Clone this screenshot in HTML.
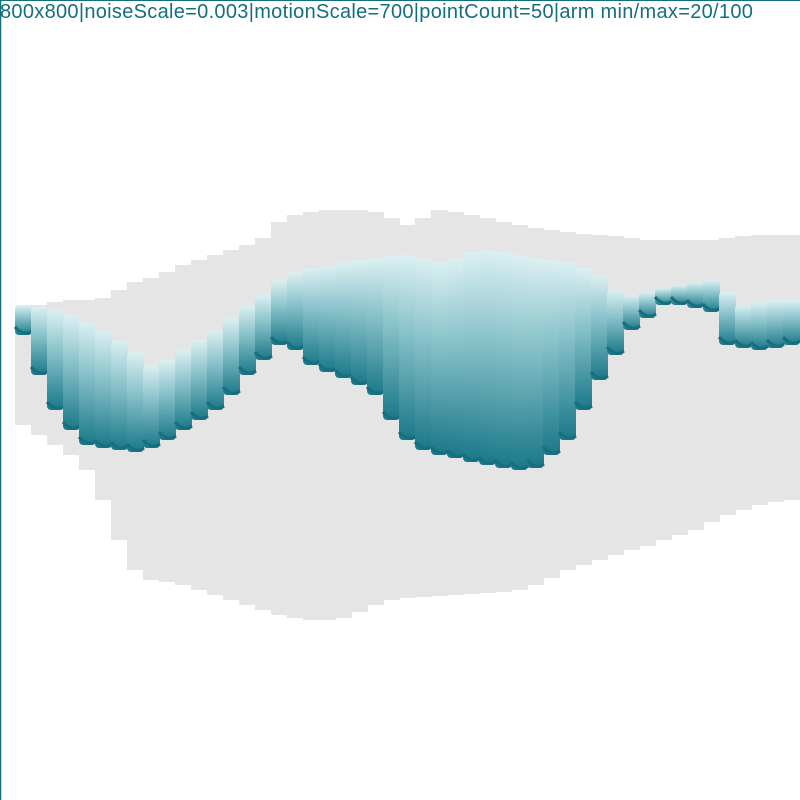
<!DOCTYPE html>
<html><head><meta charset="utf-8"><style>
body{margin:0;background:#fff}
#wrap{position:relative;width:800px;height:800px;overflow:hidden;background:#fff}
#title{position:absolute;left:0;top:1px;font:20px "Liberation Sans",sans-serif;color:#12707e;white-space:nowrap;letter-spacing:0.3px}
</style></head><body>
<div id="wrap">
<svg id="svg" width="800" height="800">
<defs>
<linearGradient id="tg" x1="0" y1="0" x2="0" y2="1">
<stop offset="0" stop-color="#dcf0f2"/>
<stop offset="0.4" stop-color="#8cc4cc"/>
<stop offset="1" stop-color="#1a7888"/>
</linearGradient>
</defs>
<g id="gray"></g><g id="teal"></g>
<line x1="0.5" y1="0" x2="0.5" y2="800" stroke="#12707e" stroke-width="1.5"/>
<line x1="0" y1="0.5" x2="800" y2="0.5" stroke="#12707e" stroke-width="1"/>
</svg>
<div id="title">800x800|noiseScale=0.003|motionScale=700|pointCount=50|arm min/max=20/100</div>
</div>
<script>
const colX=[15,31,47,63,79,95,111,127,143,159,175,191,207,223,239,255,271,287,303,319,335,351,367,383,399,415,431,447,463,479,495,511,527,543,559,575,591,607,623,639,655,671,687,703,719,735,751,767,783];
const tealTop=[305,307,310,315,322,330,340,352,365,360,350,340,330,318,305,295,280,272,268,265,262,260,258,256,255,258,262,258,252,250,252,255,258,260,262,268,275,290,295,292,288,285,282,280,292,305,302,300,300];
const tealBot=[335,375,410,430,445,448,450,452,448,440,430,420,410,395,375,360,345,350,365,372,378,385,395,420,440,450,455,458,462,465,468,470,468,455,440,410,380,355,330,318,305,305,308,312,345,348,350,348,345];
const grayTop=[310,305,302,300,300,298,290,282,278,272,265,260,255,250,245,238,222,215,212,210,210,210,212,218,225,218,210,212,215,218,222,225,228,230,232,234,235,236,238,240,240,240,240,240,238,236,235,235,235];
const grayBot=[425,435,445,455,470,500,540,570,580,582,585,590,595,600,605,610,615,618,620,620,618,612,605,600,598,597,596,595,594,593,592,590,585,578,570,565,560,555,550,546,540,535,530,522,515,510,505,502,500];
const NS='http://www.w3.org/2000/svg';
const W=17;
const gG=document.getElementById('gray'),gT=document.getElementById('teal');
colX.forEach((x,i)=>{
  const r=document.createElementNS(NS,'rect');
  
  
  r.setAttribute('x',x);r.setAttribute('y',grayTop[i]);r.setAttribute('width',W);r.setAttribute('height',grayBot[i]-grayTop[i]);
  r.setAttribute('fill','#e5e5e5');gG.appendChild(r);
});
colX.forEach((x,i)=>{
  const r=document.createElementNS(NS,'rect');
  
  
  r.setAttribute('x',x);r.setAttribute('y',tealTop[i]);r.setAttribute('width',W);r.setAttribute('height',tealBot[i]-tealTop[i]);
  r.setAttribute('rx',4);r.setAttribute('fill','url(#tg)');gT.appendChild(r);
  const e=document.createElementNS(NS,'path');
  
  
  const b=tealBot[i];
  e.setAttribute('d',`M${x} ${b-8} Q${x+W/2} ${b+2} ${x+W} ${b-4}`);
  e.setAttribute('stroke','#176f7e');e.setAttribute('stroke-width','3');e.setAttribute('fill','none');gT.appendChild(e);
});
</script>
</body></html>
